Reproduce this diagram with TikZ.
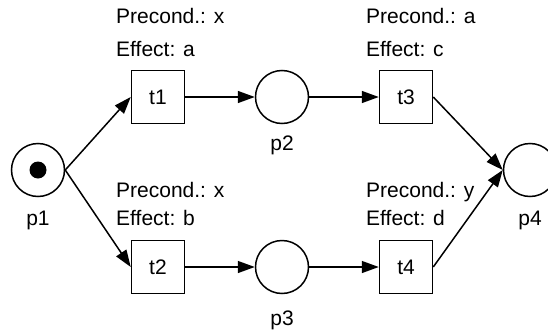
\documentclass[tikz,border=0pt]{standalone}
\usepackage{fontspec}
\setmainfont{Liberation Sans}
\usetikzlibrary{arrows.meta}
\begin{document}
\begin{tikzpicture}[x=1pt,y=-1pt,
  every node/.style={font=\fontsize{21}{25}\selectfont},
  place/.style={draw,circle,line width=1.5pt,minimum size=53pt,inner sep=0pt},
  trans/.style={draw,rectangle,line width=1.5pt,minimum size=53pt,inner sep=0pt},
  token/.style={fill,circle,minimum size=17pt,inner sep=0pt},
  arc/.style={line width=1.5pt,-{Triangle[length=17pt,width=12pt]}},
  lbl/.style={anchor=base,inner sep=0pt},
  note/.style={anchor=base west,inner sep=0pt}]
  \useasboundingbox (0,0) rectangle (548,332);
  \clip (0,0) rectangle (548,332);

  % places and transitions
  \node[place] (p1) at (38,170) {};
  \node[token] (tok) at (p1.center) {};
  \node[trans] (t1) at (158,97) {t1};
  \node[place] (p2) at (282,97) {};
  \node[trans] (t3) at (406,97) {t3};
  \node[place] (p4) at (530,170) {};
  \node[trans] (t2) at (158,267) {t2};
  \node[place] (p3) at (282,267) {};
  \node[trans] (t4) at (406,267) {t4};

  % place names
  \node[lbl] (l1) at (38,225) {p1};
  \node[lbl] (l2) at (282,150) {p2};
  \node[lbl] (l3) at (282,325) {p3};
  \node[lbl] (l4) at (530,225) {p4};

  % transition annotations
  \node[note] (n1a) at (116,23) {Precond.: x};
  \node[note] (n1b) at (116,56) {Effect: a};
  \node[note] (n3a) at (366,23) {Precond.: a};
  \node[note] (n3b) at (366,56) {Effect: c};
  \node[note] (n2a) at (116,197) {Precond.: x};
  \node[note] (n2b) at (116,225) {Effect: b};
  \node[note] (n4a) at (366,197) {Precond.: y};
  \node[note] (n4b) at (366,225) {Effect: d};

  % arcs
  \draw[arc] (p1.east) -- (t1.west);
  \draw[arc] (p1.east) -- (t2.west);
  \draw[arc] (t1) -- (p2);
  \draw[arc] (p2) -- (t3);
  \draw[arc] (t2) -- (p3);
  \draw[arc] (p3) -- (t4);
  \draw[arc] (t3.east) -- (p4.west);
  \draw[arc] (t4.east) -- (p4.west);
\end{tikzpicture}
\end{document}
